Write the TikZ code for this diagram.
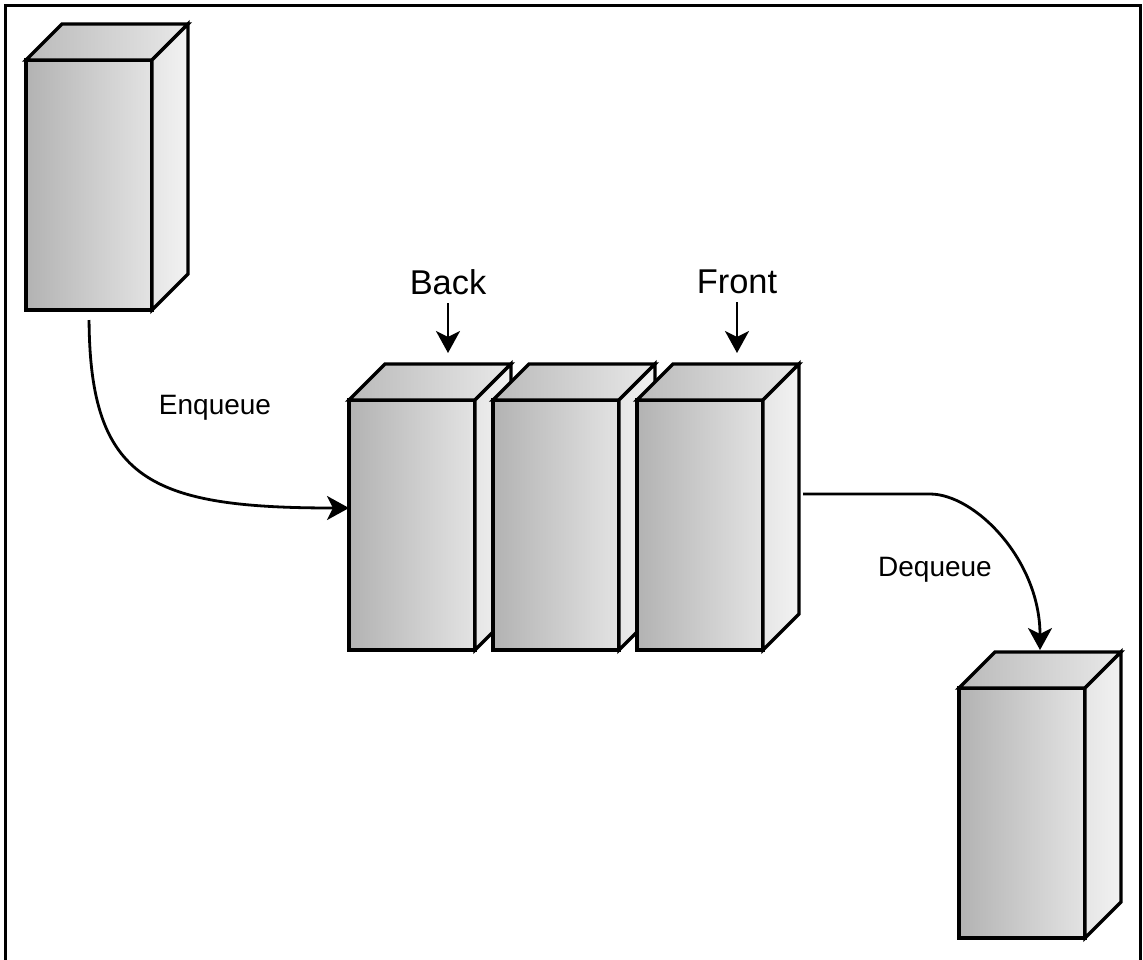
\documentclass[tikz,border=0pt]{standalone}
\usepackage{fontspec}
\setmainfont{Liberation Sans}
\usetikzlibrary{arrows.meta,positioning,calc}

\tikzset{
  front face/.style={draw,line width=1.7pt,anchor=north west,inner sep=0pt,outer sep=0pt,
    minimum width=63pt,minimum height=125pt,left color=black!30,right color=black!11},
  top face/.style={draw,line width=1.7pt,left color=black!27,right color=black!9},
  side face/.style={draw,line width=1.7pt,left color=black!10,right color=black!5},
  pointer/.style={line width=1.4pt,-{Stealth[length=11pt,width=12pt,inset=3pt]}},
  tag/.style={inner sep=0pt,font=\fontsize{17.2}{20}\selectfont},
  optag/.style={inner sep=0pt,font=\fontsize{14}{16}\selectfont}
}

% one box: front face as node, top and side faces drawn onto it
\newcommand{\qcube}[2]{%
  \node[front face] (#1) at (#2) {};
  \draw[top face] (#1.north west) -- ++(18pt,18pt) -- ++(63pt,0pt) -- (#1.north east) -- cycle;
  \draw[side face] (#1.north east) -- ++(18pt,18pt) -- ++(0pt,-125pt) -- (#1.south east) -- cycle;
}

\begin{document}
\begin{tikzpicture}[x=0.5pt,y=-0.5pt]
  \useasboundingbox (0,0) rectangle (1143,959);
  % frame
  \draw[line width=1.5pt] (5,962) -- (5,5) -- (1140,5) -- (1140,962);
  % element waiting to join
  \qcube{inbox}{26,60}
  % the queue
  \qcube{qa}{349,400}
  \qcube{qb}{493,400}
  \qcube{qc}{637,400}
  % element that left
  \qcube{outbox}{959,688}
  % labels
  \node[tag] (back) at (448,282) {Back};
  \node[tag] (front) at (737,282) {Front};
  \draw[pointer,shorten <=4pt,shorten >=23.5pt] (back.south) -- (back.south |- qa.north);
  \draw[pointer,shorten <=4pt,shorten >=23.5pt] (front.south) -- (front.south |- qc.north);
  % enqueue
  \node[optag] (enq) at (215,408) {Enqueue};
  \draw[pointer,shorten <=5pt] (inbox.south) .. controls (90,480) and (150,508) .. ([yshift=8.5pt]qa.west);
  % dequeue
  \node[optag] (deq) at (935,570) {Dequeue};
  \draw[pointer] ([xshift=20pt,yshift=15.5pt]qc.east) -- (930,494)
    .. controls (975,494) and (1040,560) .. ([xshift=9pt,yshift=19pt]outbox.north);
\end{tikzpicture}
\end{document}
